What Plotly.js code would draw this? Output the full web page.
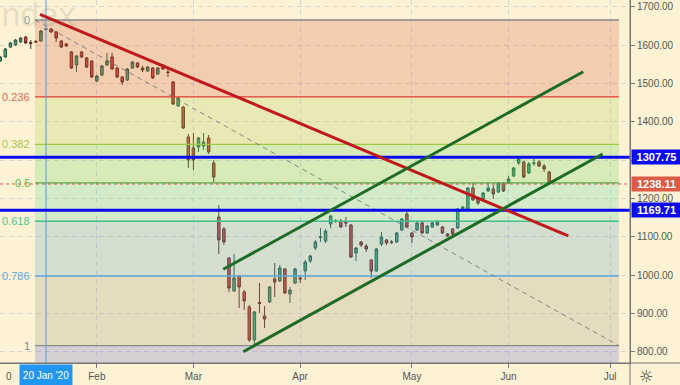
<!DOCTYPE html>
<html><head><meta charset="utf-8">
<script src="https://cdn.plot.ly/plotly-3.0.1.min.js"></script>
<style>html,body{margin:0;padding:0;background:#fdf3d4;} #chart{width:680px;height:385px;}</style>
</head><body><div id="chart"></div>
<script>
// ---- data (daily bars, in order) ----
const openP = [1558.8,1569.3,1595.3,1600.6,1608.4,1621.4,1607.1,1609.7,1611.0,1641.0,
1642.3,1634.5,1611.0,1603.2,1582.3,1548.4,1582.3,1566.7,1558.8,1506.7,
1522.3,1548.4,1569.3,1540.6,1517.1,1509.3,1540.6,1553.6,1540.6,1532.8,
1540.6,1524.9,1548.4,1530.2,1504.1,1441.5,1438.9,1360.7,1332.0,1334.6,
1337.2,1358.1,1292.9,1152.1,1120.8,1045.1,959.1,998.2,956.5,917.4,
831.3,929.1,893.9,930.4,990.4,985.2,1016.5,951.3,979.9,993.0,
1011.2,1037.3,1071.2,1098.6,1089.5,1133.8,1140.3,1141.6,1138.0,1131.2,
1058.2,1086.9,1076.4,1039.9,1011.2,1081.6,1092.1,1086.9,1086.9,1118.2,
1159.9,1110.3,1118.2,1136.4,1110.3,1126.0,1131.2,1126.0,1107.7,1120.8,
1123.4,1172.9,1172.9,1227.7,1199.0,1199.0,1219.8,1225.1,1217.2,1240.7,
1240.7,1259.0,1292.9,1295.5,1266.8,1291.6,1295.5,1285.0,1269.4];
const highP = [1571.9,1592.7,1608.4,1616.2,1621.4,1624.0,1613.6,1613.6,1639.7,1644.9,
1644.9,1637.1,1613.6,1605.8,1584.9,1574.5,1584.9,1569.3,1561.4,1522.3,
1548.4,1579.7,1579.7,1543.2,1519.7,1540.6,1558.8,1556.2,1545.8,1545.8,
1543.2,1543.2,1551.0,1538.0,1506.7,1465.0,1441.5,1368.5,1371.1,1360.7,
1371.1,1365.9,1300.7,1183.3,1126.0,1047.7,1055.6,1000.8,961.7,922.6,
906.9,979.9,919.9,972.1,1032.1,1026.9,1019.1,969.5,1019.1,1000.8,
1039.9,1053.0,1092.1,1123.4,1120.8,1157.3,1146.8,1146.8,1152.1,1133.8,
1073.8,1089.5,1081.6,1042.5,1071.2,1112.9,1094.7,1092.1,1112.9,1149.4,
1167.7,1112.9,1139.0,1139.0,1131.2,1141.6,1144.2,1128.6,1110.3,1123.4,
1175.5,1180.7,1230.3,1240.7,1204.2,1217.2,1243.3,1235.5,1243.3,1243.3,
1259.0,1282.4,1308.5,1298.1,1295.5,1303.3,1300.7,1290.3,1272.0];
const lowP = [1556.2,1566.7,1592.7,1598.0,1605.8,1603.2,1590.1,1605.8,1608.4,1639.7,
1631.8,1608.4,1592.7,1596.6,1538.0,1530.2,1566.7,1540.6,1514.5,1504.1,
1519.7,1545.8,1535.4,1514.5,1496.3,1506.7,1538.0,1540.6,1530.2,1530.2,
1511.9,1522.3,1535.4,1517.1,1444.1,1438.9,1381.5,1279.8,1274.6,1321.5,
1326.8,1316.3,1243.3,1055.6,1079.0,956.5,956.5,914.8,909.5,826.1,
816.5,901.7,862.6,927.8,943.4,982.6,951.3,927.8,977.3,979.9,
987.8,1032.1,1066.0,1086.9,1084.3,1123.4,1136.4,1123.4,1126.0,1045.1,
1037.3,1073.8,1060.8,993.0,1008.6,1076.4,1079.0,1081.6,1084.3,1115.5,
1123.4,1084.3,1115.5,1107.7,1107.7,1123.4,1128.6,1107.7,1099.9,1105.1,
1120.8,1170.3,1170.3,1193.8,1183.3,1196.4,1217.2,1199.0,1214.6,1217.2,
1238.1,1256.4,1287.6,1253.7,1264.2,1285.0,1282.4,1269.4,1237.5];
const closeP = [1569.3,1590.1,1605.8,1613.6,1618.8,1605.8,1604.5,1608.4,1637.1,1642.3,
1634.5,1618.8,1595.3,1598.0,1540.6,1571.9,1569.3,1543.2,1517.1,1519.7,
1545.8,1558.8,1538.0,1517.1,1504.1,1538.0,1556.2,1543.2,1535.4,1543.2,
1514.5,1540.6,1538.0,1528.8,1446.7,1462.4,1384.1,1300.7,1300.7,1358.1,
1347.6,1321.5,1256.4,1092.1,1086.9,966.9,993.0,969.5,933.0,831.3,
904.3,926.5,886.1,969.5,982.6,1019.1,953.9,961.7,1016.5,990.4,
1034.7,1050.4,1086.9,1099.9,1115.5,1154.7,1141.6,1126.0,1136.4,1047.7,
1071.2,1079.0,1068.6,1011.2,1068.6,1099.9,1084.3,1085.6,1110.3,1146.8,
1126.0,1099.9,1136.4,1110.3,1128.6,1136.4,1139.0,1110.3,1102.5,1107.7,
1172.9,1178.1,1227.7,1196.4,1188.6,1214.6,1227.7,1212.0,1240.7,1219.8,
1251.1,1279.8,1303.3,1256.4,1290.3,1292.9,1285.0,1277.2,1238.11];

const monthLabels = ['Feb','Mar','Apr','May','Jun','Jul'];
const monthStartBar = [19,38,59,81,100,120];
const priceTicks = [800,900,1000,1100,1200,1300,1400,1500,1600,1700];

const fibRatios = [0,0.236,0.382,0.5,0.618,0.786,1];
const fibLabels = ['0','0.236','0.382','0.5','0.618','0.786','1'];
const fibHigh = 1665.7, fibLow = 816.5;
const fibBars = [6.83, 121.72];

const levelLines = [1307.75, 1169.71];
const lastPrice = 1238.11;
const redTrendBars = [7.81, 111.75], redTrendPrices = [1680.6, 1102.5];
const chUpperBars = [43.87, 114.70], chUpperPrices = [1015.7, 1530.9];
const chLowerBars = [47.81, 118.51], chLowerPrices = [800.8, 1316.3];
const crosshairBar = 9, crosshairLabel = "20 Jan '20";

// ---- styling ----
const yRange = [771.3, 1717.9];
const xRange = [-0.05, 123.9];
const bandFill = ['rgba(213,91,68,0.25)','rgba(173,203,84,0.25)','rgba(105,211,100,0.25)',
  'rgba(89,211,164,0.25)','rgba(93,163,196,0.25)','rgba(161,151,132,0.25)','rgba(101,99,212,0.25)'];
const fibLineColor = ['#8a8a8a','#e53935','#9ccc3c','#4caf50','#45c08d','#5ca8dc','#8a8a8a'];
const fibTextColor = ['#9a9a9a','#e8665a','#a5c84a','#5cc04a','#4cc494','#5aa8e0','#8a8a8a'];

const fibPrices = fibRatios.map(r => fibHigh - r * (fibHigh - fibLow));
const shapes = [];
for (let k = 0; k < fibPrices.length; k++) {
  const top = fibPrices[k];
  const bot = k < fibPrices.length - 1 ? fibPrices[k + 1] : yRange[0];
  shapes.push({type:'rect', layer:'above', xref:'x', yref:'y', x0:fibBars[0], x1:fibBars[1],
    y0:bot, y1:top, fillcolor:bandFill[k], line:{width:0}});
}
for (let k = 0; k < fibPrices.length; k++) {
  shapes.push({type:'line', layer:'above', xref:'x', yref:'y', x0:fibBars[0], x1:fibBars[1],
    y0:fibPrices[k], y1:fibPrices[k], line:{color:fibLineColor[k], width:1.3}});
}
shapes.push({type:'line', layer:'above', xref:'x', yref:'y', x0:fibBars[0], y0:fibHigh, x1:fibBars[1], y1:fibLow,
  line:{color:'rgba(110,110,110,0.8)', width:1, dash:'5px,4px'}});
shapes.push({type:'line', layer:'above', xref:'x', yref:'paper', x0:crosshairBar, x1:crosshairBar, y0:0, y1:1,
  line:{color:'#5b9bd5', width:1}});
shapes.push({type:'line', layer:'above', xref:'paper', yref:'y', x0:0, x1:1, y0:lastPrice, y1:lastPrice,
  line:{color:'#e0503c', width:1, dash:'dot'}});
levelLines.forEach(v => shapes.push({type:'line', layer:'above', xref:'paper', yref:'y', x0:0, x1:1, y0:v, y1:v,
  line:{color:'#0b0bf0', width:3}}));
shapes.push({type:'line', layer:'above', xref:'x', yref:'y', x0:redTrendBars[0], y0:redTrendPrices[0],
  x1:redTrendBars[1], y1:redTrendPrices[1], line:{color:'#c0181c', width:3}});
shapes.push({type:'line', layer:'above', xref:'x', yref:'y', x0:chUpperBars[0], y0:chUpperPrices[0],
  x1:chUpperBars[1], y1:chUpperPrices[1], line:{color:'#1e6b26', width:3}});
shapes.push({type:'line', layer:'above', xref:'x', yref:'y', x0:chLowerBars[0], y0:chLowerPrices[0],
  x1:chLowerBars[1], y1:chLowerPrices[1], line:{color:'#1e6b26', width:3}});
// axis extensions into the margins
shapes.push({type:'line', layer:'above', xref:'paper', yref:'paper', x0:0, x1:680/630, y0:0, y1:0,
  line:{color:'#777', width:1}});
shapes.push({type:'line', layer:'above', xref:'paper', yref:'paper', x0:1, x1:1, y0:-22/363, y1:1,
  line:{color:'#777', width:1}});

const font = 'Liberation Sans, Arial, sans-serif';
const annotations = [];
fibPrices.forEach((p, k) => annotations.push({xref:'paper', x:32/630, xanchor:'right', yref:'y', y:p,
  yanchor:'middle', text:fibLabels[k], showarrow:false, font:{family:font, size:11, color:fibTextColor[k]}}));
const boxes = [[levelLines[0], '#0b0bf0'], [lastPrice, '#dc5a46'], [levelLines[1], '#0b0bf0']];
boxes.forEach(([v, c]) => annotations.push({xref:'paper', x:1, xanchor:'left', xshift:1, yref:'y', y:v,
  yanchor:'middle', text:'<b>' + v.toFixed(2) + '</b>', showarrow:false, bgcolor:c, width:49, height:14,
  borderpad:0, align:'center', font:{family:font, size:11, color:'#ffffff'}}));
annotations.push({xref:'x', x:crosshairBar, yref:'paper', y:0, yanchor:'top', yshift:-1, text:crosshairLabel,
  showarrow:false, bgcolor:'#2196f3', width:52, height:20, borderpad:0, align:'center',
  font:{family:font, size:10, color:'#ffffff'}});
annotations.push({xref:'paper', x:4/630, yref:'paper', y:-13/363, yanchor:'middle', text:'0', showarrow:false,
  font:{family:font, size:10, color:'#555'}});
annotations.push({xref:'paper', x:655/630, yref:'paper', y:-13/363, yanchor:'middle', text:'☼', showarrow:false,
  font:{family:'DejaVu Sans', size:16, color:'#333'}});
annotations.push({xref:'paper', x:-10/630, xanchor:'left', yref:'paper', y:1 + 7/363, yanchor:'top', text:'Index',
  showarrow:false, font:{family:font, size:34, color:'rgba(110,110,110,0.17)'}});

const trace = {
  type:'candlestick',
  x: openP.map((_, i) => i),
  open: openP, high: highP, low: lowP, close: closeP,
  increasing:{line:{color:'#2c5a40', width:1}, fillcolor:'#44a672'},
  decreasing:{line:{color:'#5e2a20', width:1}, fillcolor:'#d94436'},
  whiskerwidth:0, hoverinfo:'skip'
};

const gridCol = 'rgba(140,160,200,0.35)';
const layout = {
  width:680, height:385,
  margin:{l:0, r:50, t:0, b:22},
  paper_bgcolor:'#fdf3d4', plot_bgcolor:'#fdf3d4',
  showlegend:false,
  font:{family:font, size:10, color:'#555'},
  xaxis:{range:xRange, tickvals:monthStartBar, ticktext:monthLabels, showgrid:true, gridcolor:gridCol,
    griddash:'5px,4px', ticks:'outside', ticklen:4, tickcolor:'#777', showline:true, linecolor:'#777',
    zeroline:false, rangeslider:{visible:false}, tickfont:{family:font, size:10, color:'#555'}, fixedrange:true},
  yaxis:{side:'right', range:yRange, tickvals:priceTicks, tickformat:'.2f', showgrid:true, gridcolor:gridCol,
    griddash:'5px,4px', ticks:'outside', ticklen:4, tickcolor:'#777', showline:true, linecolor:'#777',
    zeroline:false, tickfont:{family:font, size:10, color:'#555'}, fixedrange:true},
  shapes:shapes, annotations:annotations
};
Plotly.newPlot('chart', [trace], layout, {displayModeBar:false, staticPlot:true});
</script></body></html>
